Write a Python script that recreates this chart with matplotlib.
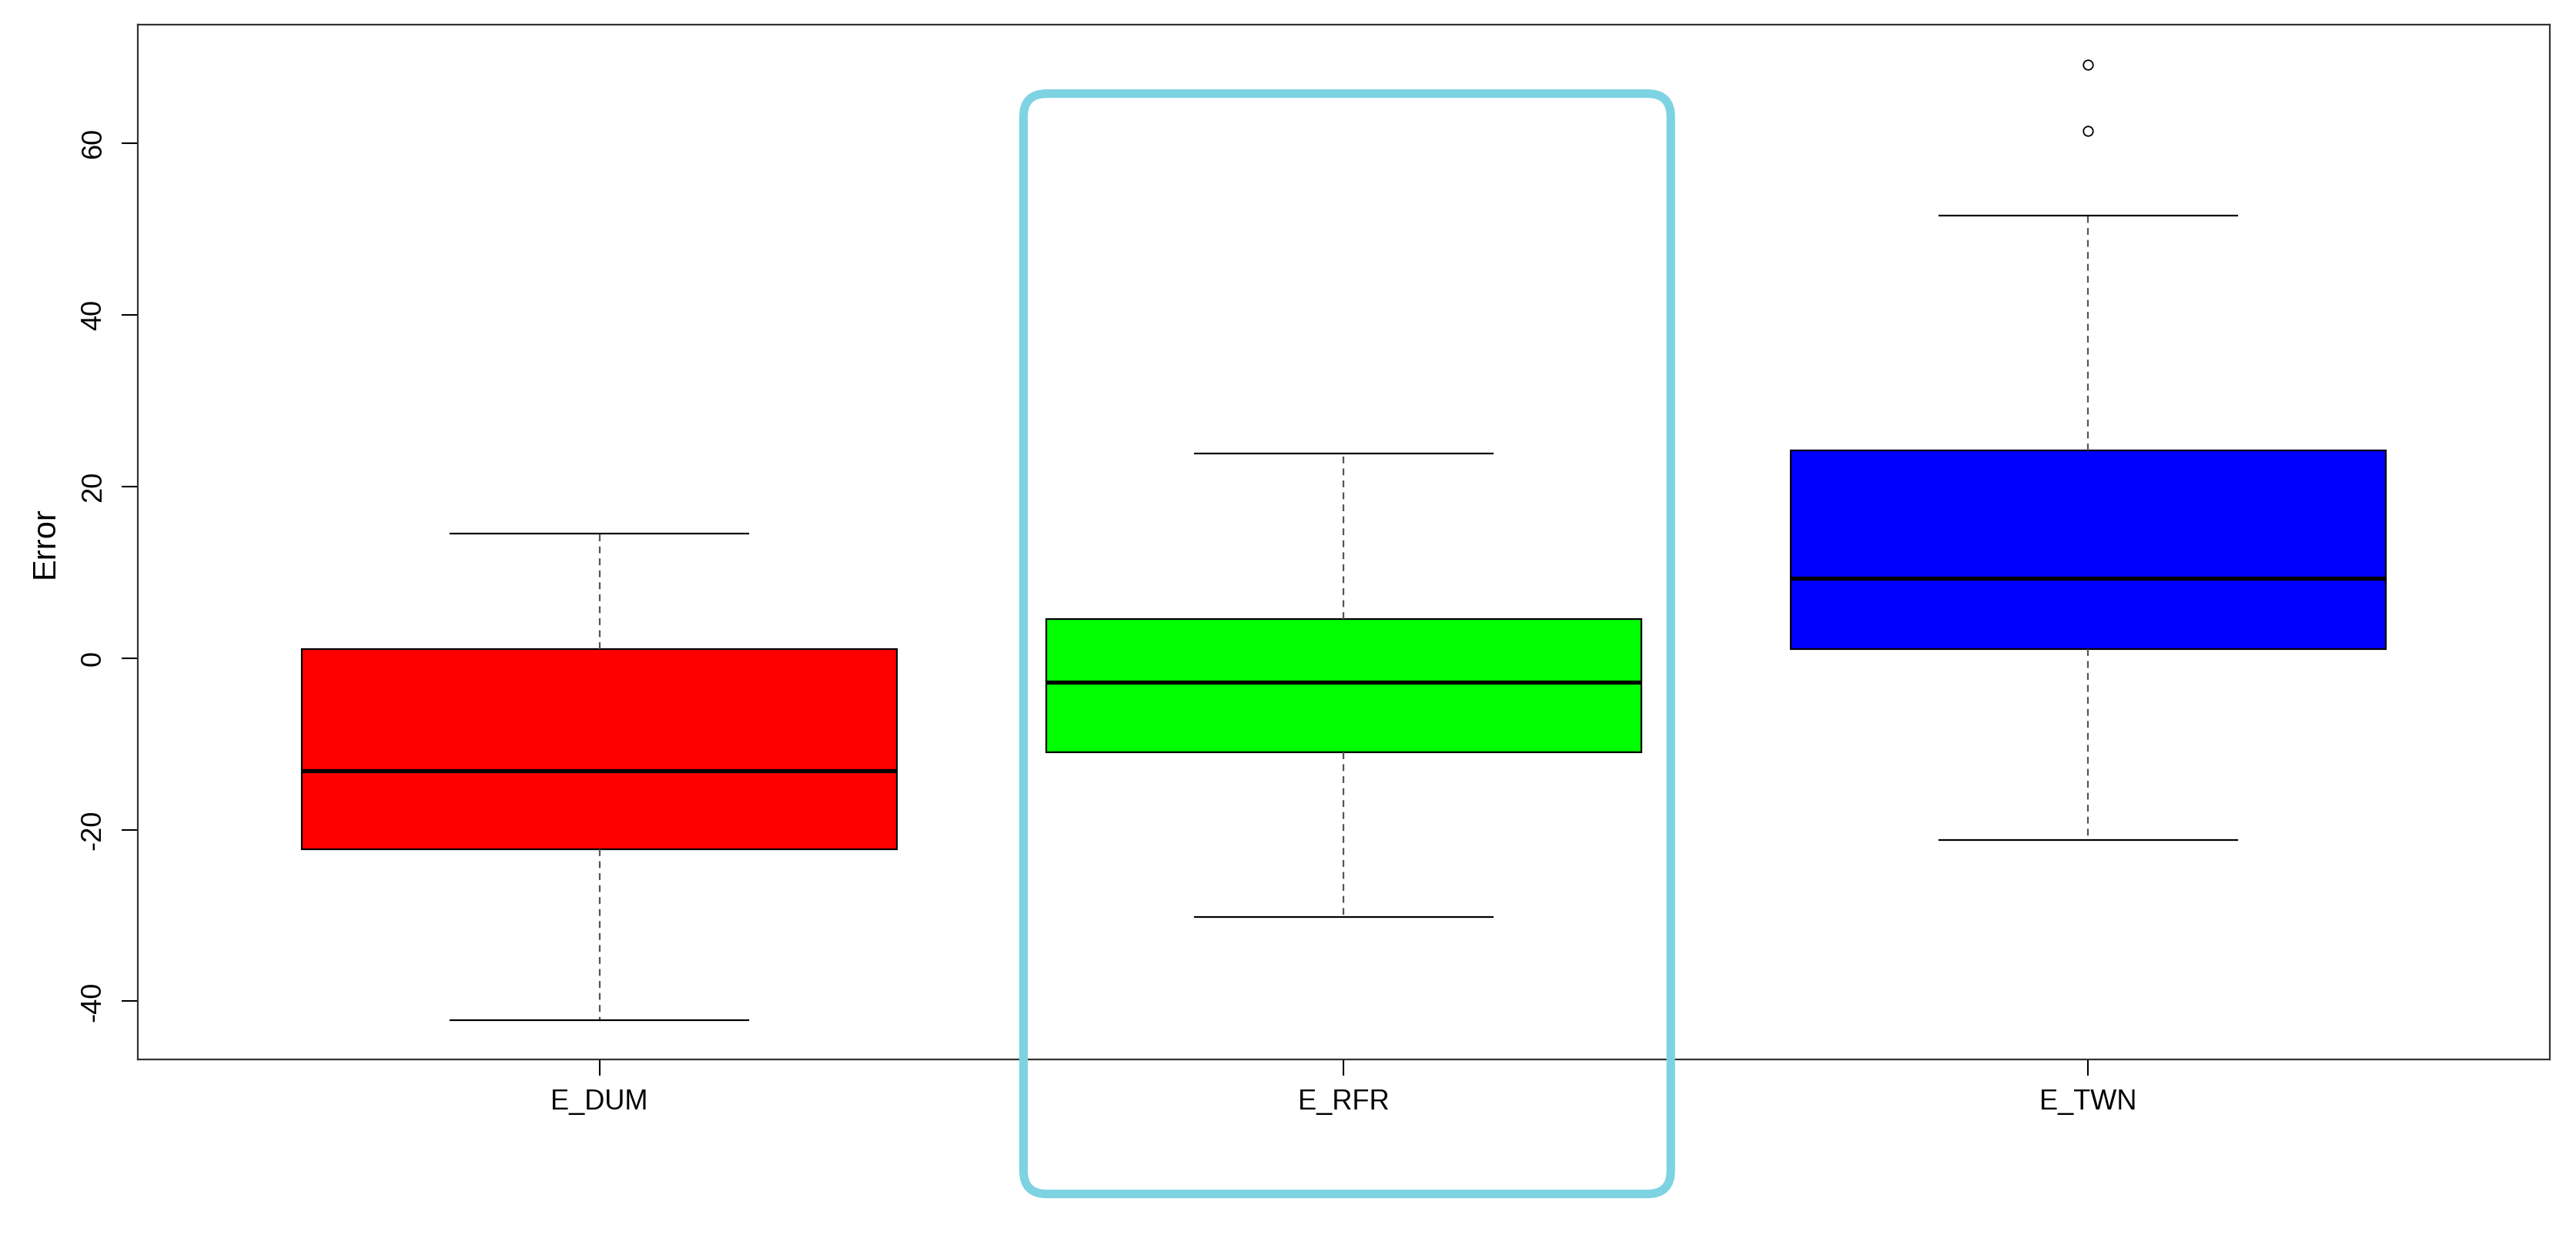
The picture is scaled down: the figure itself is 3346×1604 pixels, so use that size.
import matplotlib.pyplot as plt
from matplotlib.patches import FancyBboxPatch

# box statistics
labels = ["E_DUM", "E_RFR", "E_TWN"]
whisker_low = [-42.2, -30.2, -21.2]
q1 = [-22.3, -11.0, 1.05]
medians = [-13.1, -2.8, 9.3]
q3 = [1.05, 4.5, 24.2]
whisker_high = [14.5, 23.8, 51.6]
outliers = [[], [], [61.4, 69.1]]
box_colors = ["#FF0000", "#00FF00", "#0000FF"]

plt.rcParams['font.family'] = ['Liberation Sans', 'DejaVu Sans']
plt.rcParams['axes.unicode_minus'] = False

W, H = 3346, 1604
fig = plt.figure(figsize=(W / 100, H / 100), dpi=100)
ax = fig.add_axes([0.0535, 0.142, 0.9363, 0.838])

stats = []
for i, lab in enumerate(labels):
    stats.append({
        "label": lab,
        "whislo": whisker_low[i],
        "q1": q1[i],
        "med": medians[i],
        "q3": q3[i],
        "whishi": whisker_high[i],
        "fliers": outliers[i],
    })

bp = ax.bxp(stats, positions=[1, 2, 3], widths=0.8, patch_artist=True,
            boxprops=dict(edgecolor="black", linewidth=1.6),
            medianprops=dict(color="black", linewidth=3.8),
            whiskerprops=dict(color="#555555", linewidth=1.6, linestyle=(0, (4, 3))),
            capprops=dict(color="black", linewidth=1.6),
            capwidths=0.4,
            flierprops=dict(marker="o", markerfacecolor="white",
                            markeredgecolor="black", markersize=9,
                            markeredgewidth=1.3))
for patch, c in zip(bp["boxes"], box_colors):
    patch.set_facecolor(c)

ax.set_xlim(0.38, 3.62)
ax.set_ylim(-46.8, 73.8)
ax.set_yticks([-40, -20, 0, 20, 40, 60])
ax.set_xticks([1, 2, 3])
ax.set_xticklabels(labels)
for lab in ax.get_yticklabels():
    lab.set_rotation(90)
    lab.set_va("center")
ax.tick_params(axis="both", labelsize=26, length=15, width=1.5, direction="out")
ax.tick_params(axis="x", pad=12)
ax.tick_params(axis="y", pad=14)
ax.set_ylabel("Error", fontsize=30, labelpad=18)
for sp in ax.spines.values():
    sp.set_linewidth(1.6)
    sp.set_color("#333333")

# highlight frame around the E_RFR box
x0, x1 = 623 / 1568, 1017 / 1568
y0, y1 = 1 - 727 / 752, 1 - 57 / 752
rect = FancyBboxPatch((x0, y0), x1 - x0, y1 - y0,
                      boxstyle="round,pad=0,rounding_size=0.009",
                      mutation_aspect=W / H, transform=fig.transFigure,
                      facecolor="none", edgecolor="#7DD3E2", linewidth=8,
                      zorder=10)
fig.patches.append(rect)

fig.savefig("out.png", dpi=100, facecolor="white")
